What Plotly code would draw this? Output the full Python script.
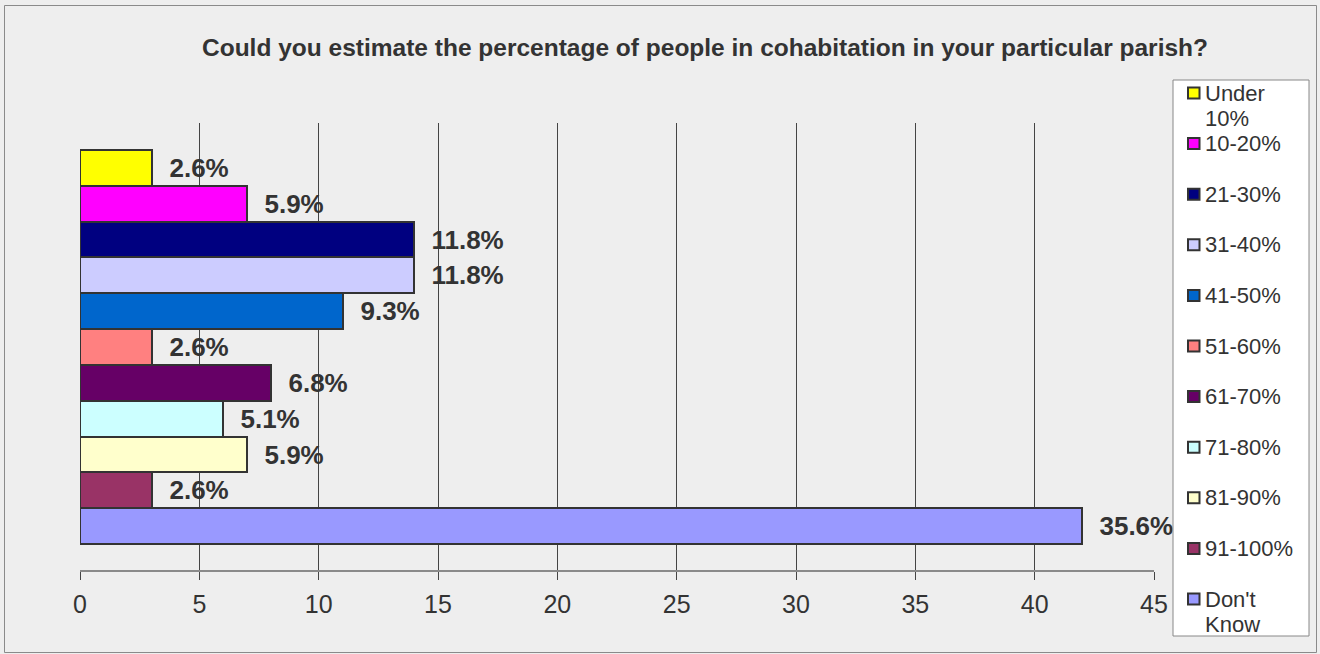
import plotly.graph_objects as go

# ---- data ----
categories = ["Under 10%", "10-20%", "21-30%", "31-40%", "41-50%", "51-60%",
              "61-70%", "71-80%", "81-90%", "91-100%", "Don't Know"]
legend_lines = [["Under", "10%"], ["10-20%"], ["21-30%"], ["31-40%"], ["41-50%"],
                ["51-60%"], ["61-70%"], ["71-80%"], ["81-90%"], ["91-100%"],
                ["Don't", "Know"]]
counts = [3, 7, 14, 14, 11, 3, 8, 6, 7, 3, 42]
pct_labels = ["2.6%", "5.9%", "11.8%", "11.8%", "9.3%", "2.6%",
              "6.8%", "5.1%", "5.9%", "2.6%", "35.6%"]
colors = ["#FFFF00", "#FF00FF", "#000080", "#CCCCFF", "#0066CC", "#FF8080",
          "#660066", "#CCFFFF", "#FFFFCC", "#993366", "#9999FF"]
x_ticks = [0, 5, 10, 15, 20, 25, 30, 35, 40, 45]
title_text = "Could you estimate the percentage of people in cohabitation in your particular parish?"

# ---- layout geometry (pixels) ----
W, H = 1320, 654
L, R, T, B = 80, 1154, 123, 570
FONT = "Liberation Sans, Arial, sans-serif"
TXT = "#333333"


def px(xp):
    return (xp - L) / (R - L)


def py(yp):
    return (B - yp) / (B - T)


fig = go.Figure()
fig.add_trace(go.Bar(
    y=categories, x=counts, orientation="h", width=1,
    marker=dict(color=colors, line=dict(color="#333333", width=2)),
    text=pct_labels, texttemplate="\u00a0\u00a0%{text}",
    textposition="outside", constraintext="none", cliponaxis=False,
    textfont=dict(family=FONT, size=26, color=TXT, weight="bold"),
    showlegend=False, hoverinfo="x+y",
))

shapes = []
# outer border
shapes.append(dict(type="rect", xref="paper", yref="paper",
                   x0=px(4.5), x1=px(1316.5), y0=py(652.5), y1=py(5.5),
                   line=dict(color="#8a8a8a", width=1), fillcolor="rgba(0,0,0,0)",
                   layer="below"))
# legend box
shapes.append(dict(type="rect", xref="paper", yref="paper",
                   x0=px(1173), x1=px(1309), y0=py(636), y1=py(80),
                   line=dict(color="#888888", width=1), fillcolor="#FFFFFF"))

annotations = []
first_y = 93.0
step = 50.6
line_h = 25.0
for i, (lines, col) in enumerate(zip(legend_lines, colors)):
    yc = first_y + i * step
    shapes.append(dict(type="rect", xref="paper", yref="paper",
                       x0=px(1188), x1=px(1199.5), y0=py(yc + 5.5), y1=py(yc - 5.5),
                       line=dict(color="#333333", width=2), fillcolor=col))
    for j, ln in enumerate(lines):
        annotations.append(dict(xref="paper", yref="paper", x=px(1202.5), y=py(yc + j * line_h),
                                xanchor="left", yanchor="middle", showarrow=False,
                                text=ln, font=dict(family=FONT, size=22, color=TXT)))

fig.update_layout(
    width=W, height=H,
    margin=dict(l=L, r=W - R, t=T, b=H - B, pad=0),
    paper_bgcolor="#EEEEEE", plot_bgcolor="#EEEEEE",
    title=dict(text=title_text, x=705 / W, xanchor="center", xref="container",
               y=1 - 47 / H, yanchor="middle", yref="container",
               font=dict(family=FONT, size=24.5, color=TXT, weight="bold")),
    xaxis=dict(range=[0, 45], tickvals=x_ticks, ticktext=[str(v) for v in x_ticks],
               showgrid=True, gridcolor="#444444", gridwidth=1,
               ticks="outside", ticklen=8, tickcolor="#444444", tickwidth=1,
               showline=True, linecolor="#8a8a8a", linewidth=2,
               zeroline=False, ticklabelstandoff=3,
               tickfont=dict(family=FONT, size=25, color=TXT)),
    yaxis=dict(type="category", categoryorder="array", categoryarray=categories,
               range=[10.5 + 26 / 35.8, -0.5 - 27 / 35.8],
               showticklabels=False, showgrid=False, zeroline=False, showline=False),
    bargap=0,
    shapes=shapes, annotations=annotations,
    font=dict(family=FONT, color=TXT),
)

fig.write_html("out.html")
